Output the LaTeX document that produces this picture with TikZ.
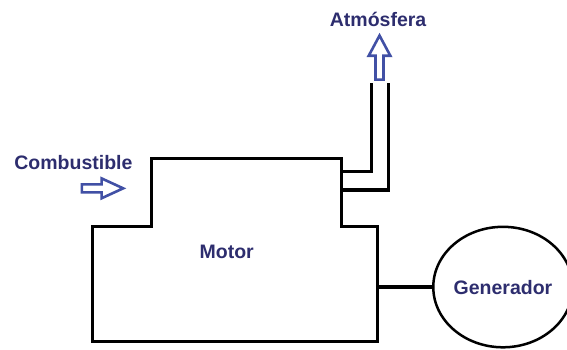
\documentclass[tikz,border=0pt]{standalone}
\usepackage{fontspec}
\setmainfont{Liberation Sans}
\usepackage{tikz}
\usetikzlibrary{shapes.geometric}

\definecolor{rotulo}{RGB}{45,45,110}
\definecolor{flechaazul}{RGB}{65,80,165}

\begin{document}
\begin{tikzpicture}[
    pared/.style={line width=3.2pt, line join=miter},
    eje/.style={line width=4.5pt},
    flecha/.style={draw=flechaazul, line width=2.6pt, line join=miter, fill=white},
    rotulo/.style={text=rotulo, font=\bfseries\fontsize{19.5}{23}\selectfont}
  ]
  \useasboundingbox (0,0) rectangle (19.93,12.30);
  % motor
  \draw[pared] (3.26,0.29) -- (3.26,4.33) -- (5.33,4.33) -- (5.33,6.74)
    -- (12.01,6.74) -- (12.01,4.33) -- (13.27,4.33) -- (13.27,0.29) -- cycle;
  \node[rotulo] (motor) at (7.97,3.46) {Motor};
  % escape
  \draw[pared] (12.01,6.27) -- (13.06,6.27) -- (13.06,9.38);
  \draw[pared] (12.01,5.62) -- (13.65,5.62) -- (13.65,9.38);
  \draw[flecha] (13.20,9.50) -- (13.20,10.34) -- (12.96,10.34) -- (13.34,11.05)
    -- (13.72,10.34) -- (13.48,10.34) -- (13.48,9.50) -- cycle;
  \node[rotulo] (atm) at (13.29,11.63) {Atmósfera};
  % combustible
  \node[rotulo] (comb) at (2.58,6.57) {Combustible};
  \draw[flecha] (2.88,5.54) -- (3.57,5.54) -- (3.57,5.33) -- (4.33,5.68)
    -- (3.57,6.03) -- (3.57,5.82) -- (2.88,5.82) -- cycle;
  % generador
  \node[draw, line width=2.5pt, ellipse, minimum width=130pt, minimum height=120.5pt,
    inner sep=0pt, rotulo] (gen) at (17.68,2.21) {Generador};
  \coordinate (ejemotor) at (13.27,2.21);
  \draw[eje] (ejemotor) -- (gen);
\end{tikzpicture}
\end{document}
